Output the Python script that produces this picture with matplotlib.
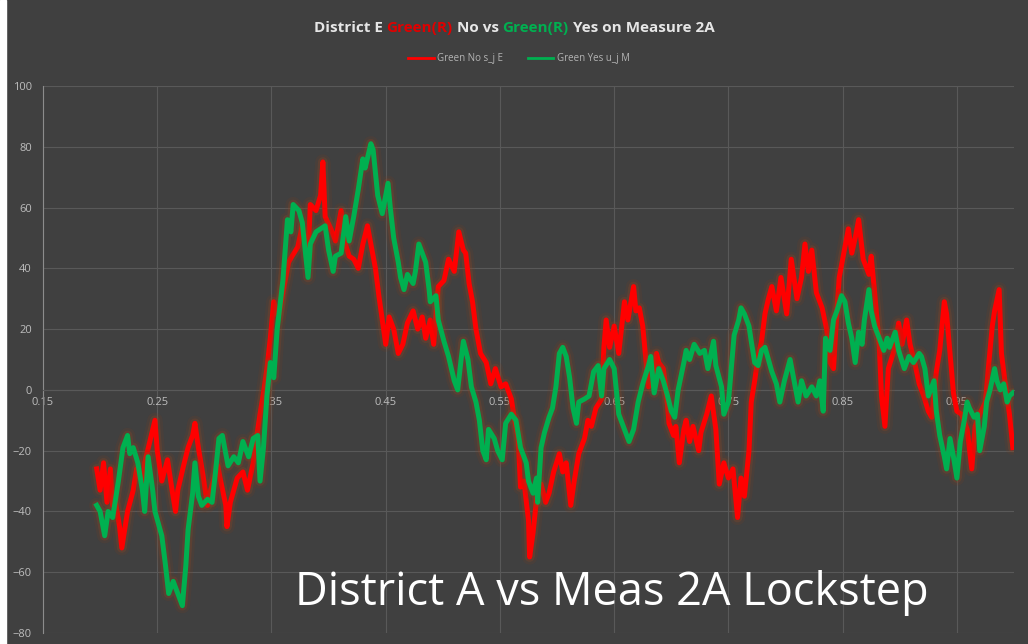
import matplotlib
matplotlib.use("Agg")
import matplotlib.pyplot
import matplotlib.patheffects
import matplotlib.patches

# Green No s_j E (red series)
red_x = [
    0.197, 0.200, 0.203, 0.206, 0.209, 0.211, 0.213, 0.217, 0.219, 0.224,
    0.229, 0.232, 0.235, 0.238, 0.239, 0.246, 0.248, 0.250, 0.254, 0.259,
    0.263, 0.266, 0.268, 0.273, 0.277, 0.281, 0.283, 0.286, 0.290, 0.294,
    0.296, 0.303, 0.305, 0.310, 0.311, 0.314, 0.320, 0.325, 0.329, 0.334,
    0.338, 0.340, 0.343, 0.346, 0.349, 0.352, 0.356, 0.361, 0.365, 0.368,
    0.373, 0.377, 0.382, 0.384, 0.389, 0.393, 0.395, 0.397, 0.402, 0.406,
    0.411, 0.413, 0.418, 0.422, 0.426, 0.430, 0.434, 0.437, 0.441, 0.444,
    0.447, 0.450, 0.453, 0.457, 0.461, 0.465, 0.469, 0.474, 0.478, 0.482,
    0.485, 0.489, 0.492, 0.496, 0.501, 0.505, 0.510, 0.514, 0.518, 0.520,
    0.523, 0.526, 0.529, 0.533, 0.538, 0.542, 0.546, 0.551, 0.555, 0.560,
    0.562, 0.566, 0.568, 0.571, 0.575, 0.576, 0.579, 0.582, 0.586, 0.590,
    0.593, 0.597, 0.602, 0.605, 0.608, 0.612, 0.615, 0.619, 0.624, 0.627,
    0.630, 0.634, 0.639, 0.641, 0.643, 0.646, 0.650, 0.654, 0.659, 0.662,
    0.667, 0.669, 0.672, 0.675, 0.678, 0.680, 0.684, 0.687, 0.689, 0.693,
    0.696, 0.698, 0.702, 0.704, 0.707, 0.711, 0.713, 0.716, 0.719, 0.724,
    0.726, 0.731, 0.735, 0.739, 0.742, 0.746, 0.750, 0.754, 0.758, 0.761,
    0.764, 0.768, 0.770, 0.773, 0.776, 0.779, 0.782, 0.785, 0.788, 0.792,
    0.796, 0.801, 0.805, 0.810, 0.814, 0.817, 0.820, 0.823, 0.827, 0.832,
    0.836, 0.839, 0.842, 0.845, 0.847, 0.851, 0.855, 0.858, 0.861, 0.864,
    0.868, 0.873, 0.875, 0.878, 0.882, 0.884, 0.887, 0.890, 0.895, 0.899,
    0.902, 0.906, 0.909, 0.913, 0.917, 0.921, 0.925, 0.928, 0.932, 0.935,
    0.939, 0.941, 0.944, 0.947, 0.950, 0.954, 0.959, 0.963, 0.966, 0.970,
    0.975, 0.978, 0.981, 0.983, 0.987, 0.989, 0.992, 0.996, 0.999]
red_y = [
    -26, -33, -24, -37, -26, -38, -36, -45, -52, -40,
    -33, -26, -29, -30, -24, -13, -10, -20, -30, -23,
    -33, -40, -33, -25, -19, -15, -11, -19, -28, -38,
    -34, -25, -29, -38, -45, -37, -29, -27, -33, -24,
    -13, -8, -1, 7, 17, 29, 24, 34, 42, 44,
    47, 54, 44, 61, 59, 64, 75, 57, 53, 49,
    59, 50, 44, 43, 40, 48, 54, 48, 40, 31,
    23, 15, 24, 20, 12, 15, 22, 26, 20, 24,
    17, 23, 15, 34, 36, 43, 39, 52, 46, 45,
    35, 29, 20, 12, 9, 2, 7, 1, 2, -3,
    -8, -16, -32, -30, -43, -55, -47, -36, -31, -37,
    -34, -27, -21, -27, -24, -38, -30, -21, -16, -10,
    -12, -6, -3, 14, 23, 14, 21, 12, 29, 23,
    34, 26, 27, 21, 9, 1, 2, 12, 9, 7,
    -2, -11, -15, -12, -24, -13, -10, -17, -12, -20,
    -14, -8, -2, -13, -31, -24, -29, -26, -42, -29,
    -35, -20, -4, 3, 11, 16, 25, 30, 34, 26,
    37, 25, 43, 30, 37, 48, 39, 46, 32, 27,
    20, 9, 7, 26, 37, 45, 53, 45, 50, 56,
    43, 38, 44, 32, 15, -2, -12, 7, 13, 22,
    15, 23, 15, 9, 2, -2, -7, -9, 6, 13,
    29, 25, 12, -1, -7, -8, -13, -26, -12, -8,
    -4, 9, 21, 26, 33, 12, 3, -8, -19]

# Green Yes u_j M (green series)
green_x = [
    0.197, 0.200, 0.204, 0.207, 0.211, 0.216, 0.220, 0.224, 0.226, 0.229,
    0.233, 0.237, 0.239, 0.242, 0.246, 0.248, 0.251, 0.254, 0.257, 0.260,
    0.264, 0.268, 0.272, 0.275, 0.277, 0.281, 0.283, 0.286, 0.289, 0.294,
    0.298, 0.301, 0.304, 0.307, 0.310, 0.312, 0.317, 0.321, 0.325, 0.330,
    0.334, 0.338, 0.340, 0.343, 0.346, 0.349, 0.352, 0.355, 0.360, 0.364,
    0.367, 0.369, 0.374, 0.377, 0.380, 0.382, 0.384, 0.389, 0.393, 0.397,
    0.400, 0.404, 0.406, 0.411, 0.415, 0.418, 0.422, 0.426, 0.430, 0.432,
    0.437, 0.439, 0.443, 0.447, 0.452, 0.454, 0.457, 0.461, 0.463, 0.466,
    0.469, 0.474, 0.476, 0.479, 0.482, 0.485, 0.488, 0.489, 0.494, 0.496,
    0.501, 0.505, 0.510, 0.513, 0.516, 0.518, 0.522, 0.525, 0.529, 0.532,
    0.535, 0.538, 0.540, 0.545, 0.548, 0.552, 0.555, 0.560, 0.564, 0.568,
    0.573, 0.575, 0.579, 0.582, 0.583, 0.586, 0.589, 0.593, 0.596, 0.599,
    0.602, 0.605, 0.608, 0.611, 0.614, 0.617, 0.619, 0.624, 0.628, 0.632,
    0.636, 0.639, 0.641, 0.646, 0.650, 0.654, 0.659, 0.663, 0.667, 0.671,
    0.675, 0.680, 0.682, 0.685, 0.689, 0.693, 0.696, 0.700, 0.703, 0.706,
    0.711, 0.713, 0.716, 0.720, 0.725, 0.729, 0.732, 0.737, 0.739, 0.744,
    0.746, 0.750, 0.753, 0.755, 0.759, 0.761, 0.764, 0.768, 0.770, 0.773,
    0.776, 0.779, 0.782, 0.785, 0.788, 0.792, 0.795, 0.799, 0.804, 0.808,
    0.811, 0.814, 0.818, 0.823, 0.827, 0.830, 0.833, 0.835, 0.839, 0.842,
    0.845, 0.849, 0.852, 0.855, 0.858, 0.861, 0.864, 0.867, 0.869, 0.873,
    0.875, 0.878, 0.882, 0.886, 0.889, 0.891, 0.896, 0.899, 0.904, 0.908,
    0.912, 0.917, 0.919, 0.922, 0.925, 0.930, 0.932, 0.935, 0.939, 0.941,
    0.944, 0.947, 0.950, 0.953, 0.956, 0.959, 0.961, 0.965, 0.968, 0.970,
    0.974, 0.976, 0.979, 0.983, 0.985, 0.988, 0.991, 0.994, 0.996, 0.999]
green_y = [
    -38, -40, -48, -40, -42, -30, -19, -15, -21, -19,
    -24, -33, -40, -22, -33, -40, -44, -48, -57, -67,
    -63, -67, -71, -58, -46, -34, -24, -35, -38, -36,
    -37, -27, -16, -15, -21, -25, -22, -24, -17, -22,
    -16, -15, -30, -19, -2, 9, 4, 20, 36, 56,
    52, 61, 59, 55, 44, 37, 48, 52, 53, 54,
    46, 39, 44, 45, 57, 49, 57, 66, 76, 73,
    81, 79, 64, 58, 68, 60, 50, 42, 37, 33,
    38, 35, 39, 48, 45, 42, 33, 29, 31, 23,
    16, 11, 3, 0, 10, 16, 10, 1, -4, -10,
    -20, -23, -13, -16, -20, -23, -11, -8, -10, -19,
    -24, -30, -34, -29, -37, -19, -14, -9, -6, 1,
    12, 14, 11, 4, -6, -11, -4, -3, -2, 6,
    8, -2, 7, 10, 7, -8, -13, -17, -13, -4,
    2, 8, 11, -1, 7, 3, -1, -7, -9, 0,
    9, 13, 10, 15, 12, 13, 7, 16, 8, 1,
    -8, -4, 9, 18, 23, 27, 25, 21, 16, 9,
    8, 13, 14, 10, 6, 2, -4, 3, 10, 2,
    -4, 3, -2, 1, -2, 3, -7, 17, 13, 23,
    26, 31, 29, 22, 17, 9, 19, 15, 23, 33,
    26, 21, 17, 13, 17, 14, 19, 13, 7, 11,
    9, 12, 11, 7, -2, 3, -7, -15, -22, -26,
    -16, -22, -29, -17, -11, -4, -6, -9, -8, -20,
    -12, -4, 0, 7, 3, 0, 2, -4, -2, -1]

series_labels = ["Green No s_j E", "Green Yes u_j M"]
series_colors = ["#ff0000", "#00b050"]
x_ticks = [0.15, 0.25, 0.35, 0.45, 0.55, 0.65, 0.75, 0.85, 0.95]
y_ticks = [-80, -60, -40, -20, 0, 20, 40, 60, 80, 100]
title_pieces = [
    ("District E ", "#e6e6e6"), ("Green(R)", "#e00000"), (" No vs ", "#e6e6e6"),
    ("Green(R)", "#00b050"), (" Yes on Measure 2A", "#e6e6e6")]
note = "District A vs Meas 2A Lockstep"

BACKGROUND = "#404040"
GRID = "#595959"
TICK_TEXT = "#bdbdbd"


def draw_title(figure, pieces, y):
    renderer = figure.canvas.get_renderer()
    texts = [
        figure.text(0, y, text, color=color, fontsize=11, fontweight="bold",
                    family="Open Sans", va="center", ha="left")
        for text, color in pieces]
    widths = [t.get_window_extent(renderer).width for t in texts]
    left = (figure.bbox.width - sum(widths)) / 2
    for text, width in zip(texts, widths):
        text.set_x(left / figure.bbox.width)
        left += width


def main():
    matplotlib.pyplot.rcParams["font.family"] = ["Open Sans", "DejaVu Sans"]
    figure = matplotlib.pyplot.figure(figsize=(10.28, 6.44), dpi=100)
    figure.patch.set_facecolor(BACKGROUND)
    figure.patches.append(matplotlib.patches.Rectangle(
        (0, 0), 6/1028, 1, transform=figure.transFigure, color="white", zorder=0))

    plot = figure.add_axes([43/1028, 1 - 633/644, 971/1028, 547/644])
    plot.set_facecolor(BACKGROUND)

    # soft orange-brown halo, like the glow effect on the original
    glow = [
        matplotlib.patheffects.Stroke(linewidth=11, foreground="#7a3e1e", alpha=0.16,
                                      joinstyle="round", capstyle="round"),
        matplotlib.patheffects.Stroke(linewidth=7, foreground="#8a4524", alpha=0.3,
                                      joinstyle="round", capstyle="round"),
        matplotlib.patheffects.Normal()]
    for xs, ys, label, color in zip(
            [red_x, green_x], [red_y, green_y], series_labels, series_colors):
        plot.plot(xs, ys, color=color, lw=3.6, label=label, solid_joinstyle="round",
                  path_effects=glow, zorder=3)

    plot.set_xlim(0.15, 1.0)
    plot.set_ylim(-80, 100)
    plot.set_xticks(x_ticks)
    plot.set_xticklabels([f"{t:.2f}" for t in x_ticks])
    plot.set_yticks(y_ticks)
    plot.grid(True, color=GRID, lw=0.8)
    plot.set_axisbelow(True)
    for side in ["top", "right"]:
        plot.spines[side].set_visible(False)
    plot.spines["bottom"].set_position(("data", 0))
    plot.spines["bottom"].set_color(GRID)
    plot.spines["left"].set_color("#8c8c8c")
    plot.tick_params(axis="both", length=0, labelsize=8, labelcolor=TICK_TEXT)
    plot.tick_params(axis="y", pad=8)
    plot.tick_params(axis="x", pad=5)

    handles, labels = plot.get_legend_handles_labels()
    legend = figure.legend(
        handles, labels, loc="center", bbox_to_anchor=(0.505, 1 - 59/644), ncol=2,
        frameon=False, fontsize=7, handlelength=2.6, columnspacing=2.5,
        handletextpad=0.4, labelcolor="#b3b3b3")
    for line in legend.get_lines():
        line.set_path_effects([])
        line.set_linewidth(2)

    draw_title(figure, title_pieces, 1 - 28/644)

    figure.text(612/1028, 1 - 593/644, note, color="white", fontsize=32.5,
                ha="center", va="center", family="Open Sans")

    figure.savefig("out.png", dpi=100, facecolor=BACKGROUND)


if __name__ == "__main__":
    main()
